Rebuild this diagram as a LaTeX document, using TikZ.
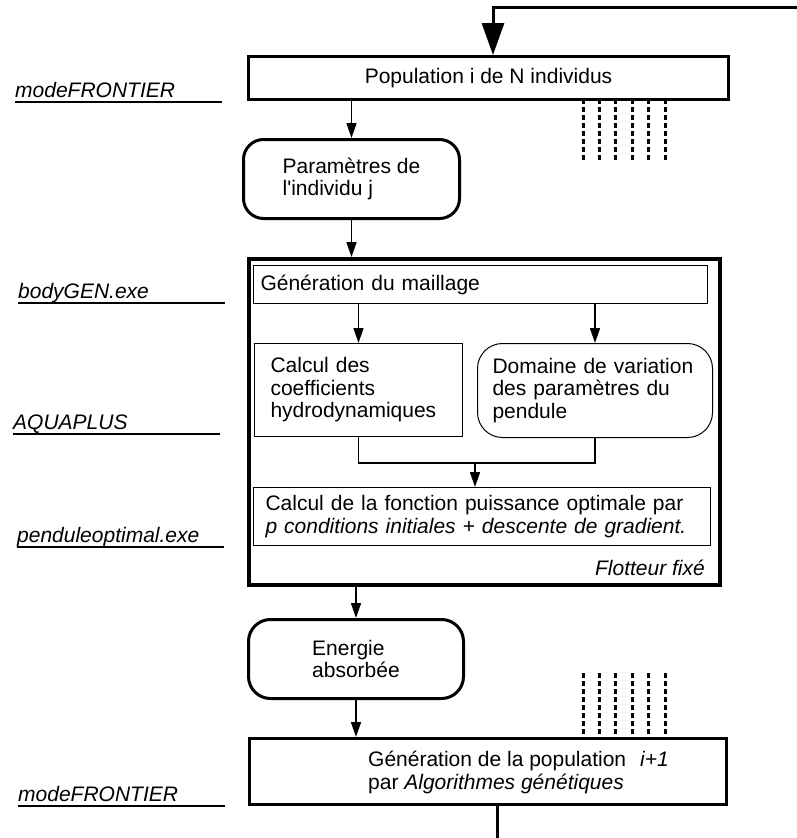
\documentclass[tikz,border=0pt]{standalone}
\usepackage{fontspec}
\setmainfont{Liberation Sans}
\usetikzlibrary{arrows.meta,positioning}

\begin{document}
\begin{tikzpicture}[x=1pt, y=-1pt,
        font=\fontsize{21}{22.5}\selectfont,
        every node/.style={anchor=north west},
        fatbox/.style={draw, line width=3pt, align=left},
        thinbox/.style={draw, line width=1pt, align=left},
        tool/.style={anchor=base west, inner sep=0pt, font=\fontsize{21}{22.5}\selectfont\itshape},
        uline/.style={line width=1.5pt},
        arr/.style={-{Triangle[length=15pt,width=10pt]}, line width=1.6pt},
        bigarr/.style={-{Triangle[length=32pt,width=22pt]}, line width=3pt},
        dashline/.style={line width=3pt, dash pattern=on 5pt off 3pt},
    ]
    \useasboundingbox (0,0) rectangle (797,838);

    % tools on the left
    \foreach \t/\x/\y [count=\k] in {modeFRONTIER/15/102, bodyGEN.exe/18/303,
            AQUAPLUS/13/434, penduleoptimal.exe/17/547, modeFRONTIER/18/806} {
        \node[tool] (tool\k) at (\x,\y-5) {\t};
        \draw[uline] (\x,\y) -- (\x+207,\y);
    }

    % main column
    \node[fatbox, minimum width=480pt, minimum height=43pt, align=center] (pop) at (247,55)
        {Population i de N individus};
    \node[fatbox, rounded corners=20pt, minimum width=216pt, minimum height=79pt] (par) at (242,138)
        {Param\`etres de\\l\textquotesingle individu j};
    \node[draw, line width=4pt, minimum width=471pt, minimum height=326pt] (flot) at (247,257) {};
    \node[thinbox, text width=440pt, inner xsep=7pt, minimum height=38pt] (mail) at (253,265)
        {G\'en\'eration du maillage};
    \node[thinbox, text width=176pt, inner xsep=16pt, minimum height=93pt] (cal) at (254,343)
        {Calcul des\\coefficients\\hydrodynamiques};
    \node[thinbox, rounded corners=25pt, text width=205pt, inner xsep=15pt, minimum height=94pt] (dom) at (477,343)
        {Domaine de variation\\des param\`etres du\\pendule};
    \node[thinbox, text width=433pt, inner xsep=12pt, minimum height=58pt] (fct) at (253,487)
        {Calcul de la fonction puissance optimale par\\\textit{p conditions initiales + descente de gradient.}};
    \node[anchor=east, inner sep=0pt, font=\fontsize{21}{22.5}\selectfont\itshape] (fixe) at (705,568) {Flotteur fix\'e};
    \node[fatbox, rounded corners=22pt, minimum width=215pt, minimum height=79pt] (ener) at (247,618)
        {Energie\\absorb\'ee};
    \node[fatbox, minimum width=477pt, minimum height=66pt] (gen) at (248,737) {};
    \node[anchor=west, inner sep=0pt, align=left] (gentxt) at (368,772.5)
        {G\'en\'eration de la population\hspace{14pt}\textit{i+1}\\par \textit{Algorithmes g\'en\'etiques}};

    % individuals
    \foreach \i in {0,...,5} {
        \draw[dashline] (583+16.4*\i,99) -- (583+16.4*\i,162);
        \draw[dashline] (583+16.4*\i,673) -- (583+16.4*\i,736);
    }

    % loop
    \coordinate (fbin) at (797,7);
    \coordinate (fb) at (493,7);
    \coordinate (fbout) at (497,838);
    \draw[bigarr] (fbin) -- (fb) -- (fb |- pop.north);
    \draw[line width=3pt] (gen.south -| fbout) -- (fbout);

    \draw[arr] (pop.south -| par.north) -- (par.north);
    \draw[arr] (par.south) -- (par.south |- flot.north);
    \draw[arr] (mail.south -| cal.north) -- (cal.north);
    \draw[arr] (mail.south -| dom.north) -- (dom.north);
    \coordinate (join) at (475,463);
    \draw[line width=1.6pt] (cal.south) |- (join) -| (dom.south);
    \draw[arr] (join) -- (join |- fct.north);
    \draw[arr] (flot.south -| ener.north) -- (ener.north);
    \draw[arr] (ener.south) -- (ener.south |- gen.north);
\end{tikzpicture}
\end{document}
